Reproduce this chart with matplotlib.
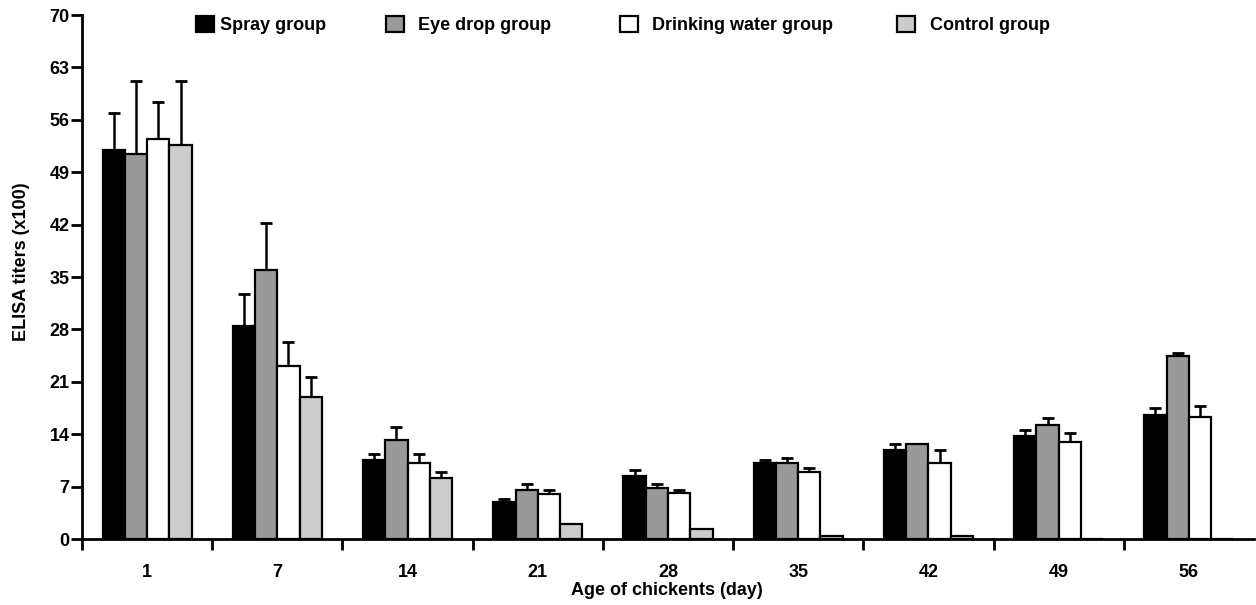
import numpy as np
import matplotlib
matplotlib.use("Agg")
import matplotlib.pyplot as plt
from matplotlib.patches import Patch

plt.rcParams['font.family'] = ['Liberation Sans', 'DejaVu Sans']

days = ["1", "7", "14", "21", "28", "35", "42", "49", "56"]
groups = ["Spray group", "Eye drop group", "Drinking water group", "Control group"]

spray = [51.9, 28.4, 10.6, 5.0, 8.4, 10.1, 11.9, 13.7, 16.5]
spray_err = [5.0, 4.3, 0.8, 0.4, 0.8, 0.4, 0.8, 0.9, 1.0]
eye = [51.4, 35.9, 13.2, 6.5, 6.8, 10.2, 12.7, 15.2, 24.4]
eye_err = [9.8, 6.3, 1.8, 0.9, 0.5, 0.6, 0.0, 1.0, 0.4]
drink = [53.4, 23.1, 10.1, 6.0, 6.1, 9.0, 10.1, 12.9, 16.3]
drink_err = [5.0, 3.2, 1.3, 0.6, 0.4, 0.5, 1.8, 1.2, 1.5]
control = [52.7, 19.0, 8.1, 2.0, 1.3, 0.45, 0.4, 0.0, 0.0]
control_err = [8.5, 2.7, 0.8, 0.0, 0.0, 0.0, 0.0, 0.0, 0.0]

yticks = [0, 7, 14, 21, 28, 35, 42, 49, 56, 63, 70]

values = [spray, eye, drink, control]
errors = [spray_err, eye_err, drink_err, control_err]
colors = ["#000000", "#999999", "#ffffff", "#cccccc"]

W, H = 1256, 605
fig = plt.figure(figsize=(W / 100, H / 100), dpi=100)
ax = fig.add_axes([82 / W, 66 / H, 1172 / W, 524 / H])

x = np.arange(len(days))
w = 0.171
offsets = (np.arange(4) - 1.5) * w
for vals, errs, col, off, name in zip(values, errors, colors, offsets, groups):
    ax.bar(x + off, vals, width=w, color=col, edgecolor="black", linewidth=1.6,
           label=name, zorder=2)
    ax.errorbar(x + off, vals, yerr=[np.zeros(len(errs)), errs], fmt='none',
                ecolor="black", elinewidth=1.8, capsize=4.5, capthick=2.0, zorder=1)

ax.set_xlim(-0.5, 8.5)
ax.set_ylim(0, 70)
ax.set_yticks(yticks)
ax.set_yticklabels([str(t) for t in yticks], fontsize=13, fontweight='bold')
ax.set_xticks(np.arange(len(days)) - 0.5)
ax.set_xticklabels([])
ax.set_xticks(x, minor=True)
ax.set_xticklabels(days, minor=True, fontsize=13, fontweight='bold')
ax.tick_params(axis='x', which='major', direction='out', length=8, width=2)
ax.tick_params(axis='x', which='minor', length=0, pad=18)
ax.tick_params(axis='y', direction='out', length=8, width=2, pad=1)

for s in ['top', 'right']:
    ax.spines[s].set_visible(False)
for s in ['left', 'bottom']:
    ax.spines[s].set_linewidth(2)

ax.set_xlabel("Age of chickents (day)", fontsize=13, fontweight='bold')
ax.xaxis.set_label_coords(0.499, -0.083)
ax.set_ylabel("ELISA titers (x100)", fontsize=13, fontweight='bold')
ax.yaxis.set_label_coords(-0.044, 0.53)

# legend entries placed individually as in the reference
leg_x = [196, 386, 620, 897]
leg_pad = [0.35, 0.75, 0.75, 0.85]
for c, name, lx, pad in zip(colors, groups, leg_x, leg_pad):
    h = Patch(facecolor=c, edgecolor='black', linewidth=1.6)
    fig.legend([h], [name], loc='center left', bbox_to_anchor=(lx / W, 1 - 25 / H),
               frameon=False, borderpad=0, borderaxespad=0,
               handlelength=1.0, handleheight=1.0, handletextpad=pad,
               prop={'size': 13, 'weight': 'bold'})

fig.savefig("out.png", dpi=100)
